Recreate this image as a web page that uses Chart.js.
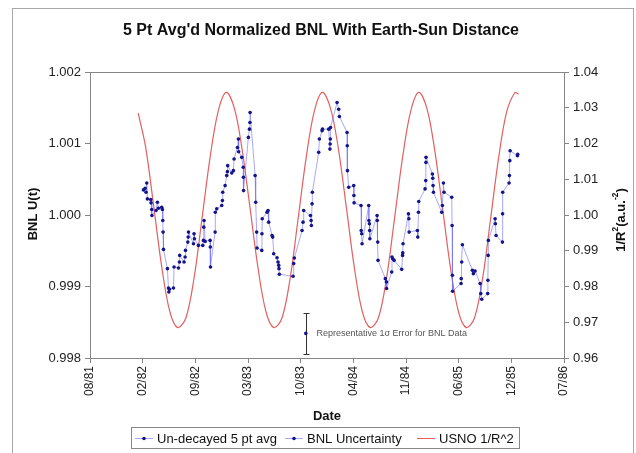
<!DOCTYPE html>
<html>
<head>
<meta charset="utf-8">
<script src="https://cdn.jsdelivr.net/npm/chart.js@4.4.1/dist/chart.umd.min.js"></script>
<style>
  html, body { margin: 0; padding: 0; background: #fff; }
  #chart { display: block; }
</style>
</head>
<body>
<canvas id="chart" width="636" height="453"></canvas>
<script>
// ---------------------------------------------- data ----------------------------------------------
const dateTicks = ['08/81', '02/82', '09/82', '03/83', '10/83', '04/84', '11/84', '06/85', '12/85', '07/86'];
const bnlTicks = ['0.998', '0.999', '1.000', '1.001', '1.002'];
const usnoTicks = ['0.96', '0.97', '0.98', '0.99', '1.00', '1.01', '1.02', '1.03', '1.04'];

// BNL 5 pt averages, date as decimal year
const bnlDates = [
  1982.141, 1982.158, 1982.168, 1982.175, 1982.182, 1982.217, 1982.220, 1982.227, 1982.229, 1982.272,
  1982.286, 1982.297, 1982.331, 1982.338, 1982.342, 1982.345, 1982.349, 1982.390, 1982.401, 1982.405,
  1982.411, 1982.453, 1982.459, 1982.505, 1982.515, 1982.518, 1982.563, 1982.574, 1982.578, 1982.602,
  1982.606, 1982.609, 1982.661, 1982.667, 1982.671, 1982.712, 1982.758, 1982.764, 1982.768, 1982.771,
  1982.782, 1982.834, 1982.836, 1982.838, 1982.886, 1982.888, 1982.903, 1982.955, 1982.962, 1982.965,
  1982.990, 1983.007, 1983.014, 1983.017, 1983.059, 1983.076, 1983.083, 1983.118, 1983.128, 1983.131,
  1983.163, 1983.178, 1983.180, 1983.182, 1983.232, 1983.243, 1983.248, 1983.250, 1983.302, 1983.308,
  1983.318, 1983.322, 1983.371, 1983.373, 1983.376, 1983.426, 1983.436, 1983.443, 1983.478, 1983.485,
  1983.495, 1983.530, 1983.540, 1983.547, 1983.550, 1983.554, 1983.696, 1983.703, 1983.710, 1983.790,
  1983.800, 1983.807, 1983.877, 1983.884, 1983.887, 1983.894, 1983.897, 1983.963, 1983.970, 1983.998,
  1984.002, 1984.067, 1984.080, 1984.082, 1984.084, 1984.086, 1984.154, 1984.171, 1984.178, 1984.258,
  1984.260, 1984.262, 1984.275, 1984.327, 1984.329, 1984.331, 1984.403, 1984.405, 1984.410, 1984.414,
  1984.483, 1984.485, 1984.490, 1984.493, 1984.495, 1984.570, 1984.572, 1984.577, 1984.580, 1984.656,
  1984.667, 1984.669, 1984.722, 1984.725, 1984.733, 1984.747, 1984.826, 1984.835, 1984.837, 1984.840,
  1984.896, 1984.900, 1984.903, 1984.989, 1984.993, 1985.000, 1985.003, 1985.069, 1985.076, 1985.078,
  1985.079, 1985.145, 1985.149, 1985.152, 1985.156, 1985.242, 1985.249, 1985.260, 1985.266, 1985.346,
  1985.350, 1985.353, 1985.355, 1985.443, 1985.445, 1985.450, 1985.457, 1985.561, 1985.571, 1985.589,
  1985.641, 1985.648, 1985.658, 1985.720, 1985.722, 1985.725, 1985.727, 1985.797, 1985.800, 1985.807,
  1985.873, 1985.875, 1985.876, 1985.942, 1985.946, 1985.950, 1985.953, 1986.029, 1986.032
];
const bnlValues = [
  1.000351, 1.000374, 1.000318, 1.000448, 1.000225, 1.000216, 1.000170, 1.000077, 0.999993, 1.000063,
  1.000179, 1.000095, 1.000109, 1.000077, 0.999923, 0.999761, 0.999519, 0.999250, 0.998980, 0.998924,
  0.998962, 0.998980, 0.999273, 0.999259, 0.999343, 0.999435, 0.999343, 0.999412, 0.999505, 0.999621,
  0.999691, 0.999761, 0.999598, 0.999737, 0.999668, 0.999575, 0.999575, 0.999645, 0.999830, 0.999923,
  0.999631, 0.999645, 0.999552, 0.999273, 0.999761, 1.000039, 1.000086, 1.000132, 1.000202, 1.000318,
  1.000411, 1.000551, 1.000606, 1.000690, 1.000588, 1.000620, 1.000783, 1.000945, 1.001062, 1.000885,
  1.000806, 1.000667, 1.000527, 1.000341, 1.001085, 1.001201, 1.001294, 1.001433, 1.000551, 1.000179,
  0.999761, 0.999538, 0.999505, 0.999737, 0.999947, 1.000039, 1.000063, 0.999900, 0.999714, 0.999691,
  0.999459, 0.999403, 0.999343, 0.999296, 0.999250, 0.999171, 0.999143, 0.999320, 0.999398, 0.999784,
  0.999900, 1.000063, 0.999993, 0.999923, 0.999854, 1.000156, 1.000318, 1.000876, 1.001062, 1.001178,
  1.001201, 1.001201, 1.000922, 1.000992, 1.001062, 1.001224, 1.001573, 1.001480, 1.001377, 1.001154,
  1.000969, 1.000620, 1.000388, 1.000411, 1.000272, 1.000170, 1.000132, 0.999784, 0.999737, 0.999598,
  1.000132, 0.999923, 0.999877, 0.999784, 0.999668, 0.999993, 0.999923, 0.999621, 0.999366, 0.999110,
  0.999064, 0.998971, 0.999203, 0.999412, 0.999389, 0.999366, 0.999240, 0.999435, 0.999473, 0.999598,
  1.000016, 0.999947, 0.999761, 0.999784, 0.999691, 1.000039, 1.000188, 1.000365, 1.000481, 1.000736,
  1.000806, 1.000574, 1.000513, 1.000411, 1.000318, 1.000039, 1.000132, 1.000448, 1.000318, 1.000249,
  0.999854, 0.999157, 0.998934, 0.999041, 0.999110, 0.999343, 0.999584, 0.999226, 0.999180, 0.999217,
  0.999041, 0.998901, 0.998822, 0.998901, 0.999087, 0.999435, 0.999645, 0.999947, 0.999877, 0.999714,
  0.999621, 1.000016, 1.000318, 1.000448, 1.000551, 1.000760, 1.000899, 1.000829, 1.000848
];

// USNO 1/R^2
const usnoDates = [
  '1982-02-01', '1982-03-01', '1982-04-01', '1982-05-01', '1982-06-01', '1982-07-01', '1982-08-01',
  '1982-09-01', '1982-10-01', '1982-11-01', '1982-12-01', '1983-01-01', '1983-02-01', '1983-03-01',
  '1983-04-01', '1983-05-01', '1983-06-01', '1983-07-01', '1983-08-01', '1983-09-01', '1983-10-01',
  '1983-11-01', '1983-12-01', '1984-01-01', '1984-02-01', '1984-03-01', '1984-04-01', '1984-05-01',
  '1984-06-01', '1984-07-01', '1984-08-01', '1984-09-01', '1984-10-01', '1984-11-01', '1984-12-01',
  '1985-01-01', '1985-02-01', '1985-03-01', '1985-04-01', '1985-05-01', '1985-06-01', '1985-07-01',
  '1985-08-01', '1985-09-01', '1985-10-01', '1985-11-01', '1985-12-01', '1986-01-01', '1986-01-15'
];
const usnoValues = [
  1.0285, 1.0191, 1.0024, 0.9857, 0.9730, 0.9685, 0.9712,
  0.9823, 0.9988, 1.0161, 1.0288, 1.0343, 1.0299, 1.0191,
  1.0024, 0.9857, 0.9730, 0.9685, 0.9712, 0.9823, 0.9988,
  1.0161, 1.0288, 1.0343, 1.0299, 1.0191, 1.0024, 0.9857,
  0.9730, 0.9685, 0.9712, 0.9823, 0.9988, 1.0161, 1.0288,
  1.0343, 1.0299, 1.0191, 1.0024, 0.9857, 0.9730, 0.9685,
  0.9712, 0.9823, 0.9988, 1.0161, 1.0288, 1.0342, 1.0338
];

// representative 1 sigma error
const sigmaDate = [1983.829];
const sigmaValue = [0.998344];
const sigmaError = [0.000288];

// ---------------------------------------------- helpers ----------------------------------------------
const FONT = '"Liberation Sans", Arial, sans-serif';

function yearToSerial(y) {
    return 29221 + (y - 1980) * 365.25;
}

function dateToSerial(s) {
    let p = s.split('-').map(Number);
    return Date.UTC(p[0], p[1] - 1, p[2]) / 864e5 + 25569;
}

// text with raised parts, centred on (0,0)
function drawRich(ctx, parts, size) {
    let total = 0;
    for (const p of parts) {
        ctx.font = 'bold ' + (p.sup ? size * 0.65 : size) + 'px ' + FONT;
        p.w = ctx.measureText(p.t).width;
        total += p.w;
    }
    let x = -total / 2;
    for (const p of parts) {
        ctx.font = 'bold ' + (p.sup ? size * 0.65 : size) + 'px ' + FONT;
        ctx.fillText(p.t, x, p.sup ? -size * 0.38 : 0);
        x += p.w;
    }
}

function legendMarker(ctx, x, y, color, dot) {
    ctx.strokeStyle = color;
    ctx.lineWidth = 1;
    ctx.beginPath();
    ctx.moveTo(x, y + 0.5);
    ctx.lineTo(x + 18, y + 0.5);
    ctx.stroke();
    if (dot) {
        ctx.fillStyle = dot;
        ctx.beginPath();
        ctx.arc(x + 9, y + 0.5, 1.8, 0, Math.PI * 2);
        ctx.fill();
    }
}

const decorations = {
    id: 'decorations',
    beforeDatasetsDraw(chart) {
        const ctx = chart.ctx;
        const xs = chart.scales.x, ys = chart.scales.y;
        const px = Math.round(xs.getPixelForValue(yearToSerial(sigmaDate[0]))) + 0.5;
        const top = Math.round(ys.getPixelForValue(sigmaValue[0] + sigmaError[0])) + 0.5;
        const bot = Math.round(ys.getPixelForValue(sigmaValue[0] - sigmaError[0])) + 0.5;
        ctx.save();
        ctx.strokeStyle = '#333';
        ctx.lineWidth = 1;
        ctx.beginPath();
        ctx.moveTo(px, top); ctx.lineTo(px, bot);
        ctx.moveTo(px - 3, top); ctx.lineTo(px + 3, top);
        ctx.moveTo(px - 3, bot); ctx.lineTo(px + 3, bot);
        ctx.stroke();
        ctx.fillStyle = '#555';
        ctx.font = '9px ' + FONT;
        ctx.textAlign = 'left';
        ctx.textBaseline = 'middle';
        ctx.fillText('Representative 1\u03c3 Error for BNL Data', px + 10, ys.getPixelForValue(sigmaValue[0]));
        ctx.restore();
    },
    afterDraw(chart) {
        const ctx = chart.ctx;
        const a = chart.chartArea;
        ctx.save();
        // chart border
        ctx.strokeStyle = '#a8a8a8';
        ctx.lineWidth = 1;
        ctx.strokeRect(12.5, 8.5, 621, 470);
        // plot area top edge
        ctx.strokeStyle = '#868686';
        ctx.beginPath();
        ctx.moveTo(a.left, a.top + 0.5);
        ctx.lineTo(a.right, a.top + 0.5);
        ctx.stroke();

        ctx.fillStyle = '#111';
        ctx.textBaseline = 'middle';
        ctx.textAlign = 'center';
        // title
        ctx.font = 'bold 16px ' + FONT;
        ctx.fillText("5 Pt Avg'd Normalized BNL With Earth-Sun Distance", 321, 31);
        // x title
        ctx.font = 'bold 13px ' + FONT;
        ctx.fillText('Date', (a.left + a.right) / 2, 416);
        // left y title
        ctx.save();
        ctx.translate(33, 214);
        ctx.rotate(-Math.PI / 2);
        ctx.fillText('BNL U(t)', 0, 0);
        ctx.restore();
        // right y title
        ctx.save();
        ctx.translate(621, 220);
        ctx.rotate(-Math.PI / 2);
        ctx.textAlign = 'left';
        drawRich(ctx, [{t: '1/R'}, {t: '2', sup: true}, {t: '(a.u.'}, {t: '-2', sup: true}, {t: ')'}], 13);
        ctx.restore();

        // legend
        ctx.strokeStyle = '#888';
        ctx.strokeRect(131.5, 427.5, 388, 21);
        const ly = 438;
        const ds = chart.data.datasets;
        legendMarker(ctx, 135, ly, ds[0].borderColor, ds[0].pointBackgroundColor);
        legendMarker(ctx, 285, ly, ds[0].borderColor, ds[1].pointBackgroundColor);
        legendMarker(ctx, 417, ly, ds[2].borderColor, null);
        ctx.fillStyle = '#111';
        ctx.font = '13px ' + FONT;
        ctx.textAlign = 'left';
        ctx.fillText(ds[0].label, 157, ly + 1);
        ctx.fillText(ds[1].label, 307, ly + 1);
        ctx.fillText(ds[2].label, 439, ly + 1);
        ctx.restore();
    }
};

// ---------------------------------------------- chart ----------------------------------------------
const bnlPoints = bnlDates.map((d, i) => ({x: yearToSerial(d), y: bnlValues[i]}));
const usnoPoints = usnoDates.map((d, i) => ({x: dateToSerial(d), y: usnoValues[i]}));
const sigmaPoints = sigmaDate.map((d, i) => ({x: yearToSerial(d), y: sigmaValue[i]}));

const axisColor = '#868686';
const tickFont = {family: FONT, size: 13};

new Chart(document.getElementById('chart'), {
    type: 'line',
    data: {
        datasets: [
            {
                label: 'Un-decayed 5 pt avg',
                data: bnlPoints,
                yAxisID: 'y',
                borderColor: 'rgba(110,110,245,0.6)',
                borderWidth: 1,
                pointRadius: 1.8,
                pointBorderWidth: 0,
                pointBackgroundColor: '#14148a',
                tension: 0,
                order: 1
            },
            {
                label: 'BNL Uncertainty',
                data: sigmaPoints,
                yAxisID: 'y',
                showLine: false,
                borderColor: '#14148a',
                pointRadius: 1.8,
                pointBorderWidth: 0,
                pointBackgroundColor: '#14148a',
                order: 0
            },
            {
                label: 'USNO 1/R^2',
                data: usnoPoints,
                yAxisID: 'y2',
                borderColor: 'rgb(228,96,96)',
                borderWidth: 1.2,
                pointRadius: 0,
                tension: 0.35,
                order: 2
            }
        ]
    },
    options: {
        responsive: false,
        animation: false,
        layout: {padding: {left: 12, right: 0, top: 72, bottom: 0}},
        plugins: {
            legend: {display: false},
            title: {display: false},
            tooltip: {enabled: false}
        },
        scales: {
            x: {
                type: 'linear',
                position: 'bottom',
                min: 29800,
                max: 31600,
                afterFit: function (s) { s.height = 95; },
                ticks: {
                    stepSize: 200,
                    autoSkip: false,
                    minRotation: 90,
                    maxRotation: 90,
                    padding: 3,
                    color: '#222',
                    font: {family: FONT, size: 12},
                    callback: function (v, i) { return dateTicks[i]; }
                },
                grid: {drawOnChartArea: false, drawTicks: true, tickLength: 5, color: axisColor},
                border: {color: axisColor}
            },
            y: {
                type: 'linear',
                position: 'left',
                min: 0.998,
                max: 1.002,
                afterFit: function (s) { s.width = 78; },
                ticks: {
                    stepSize: 0.001,
                    padding: 4,
                    color: '#222',
                    font: tickFont,
                    callback: function (v, i) { return bnlTicks[i]; }
                },
                grid: {drawOnChartArea: false, drawTicks: true, tickLength: 5, color: axisColor},
                border: {color: axisColor}
            },
            y2: {
                type: 'linear',
                position: 'right',
                min: 0.96,
                max: 1.04,
                afterFit: function (s) { s.width = 72; },
                ticks: {
                    stepSize: 0.01,
                    padding: 4,
                    color: '#222',
                    font: tickFont,
                    callback: function (v, i) { return usnoTicks[i]; }
                },
                grid: {drawOnChartArea: false, drawTicks: true, tickLength: 5, color: axisColor},
                border: {color: axisColor}
            }
        }
    },
    plugins: [decorations]
});
</script>
</body>
</html>
